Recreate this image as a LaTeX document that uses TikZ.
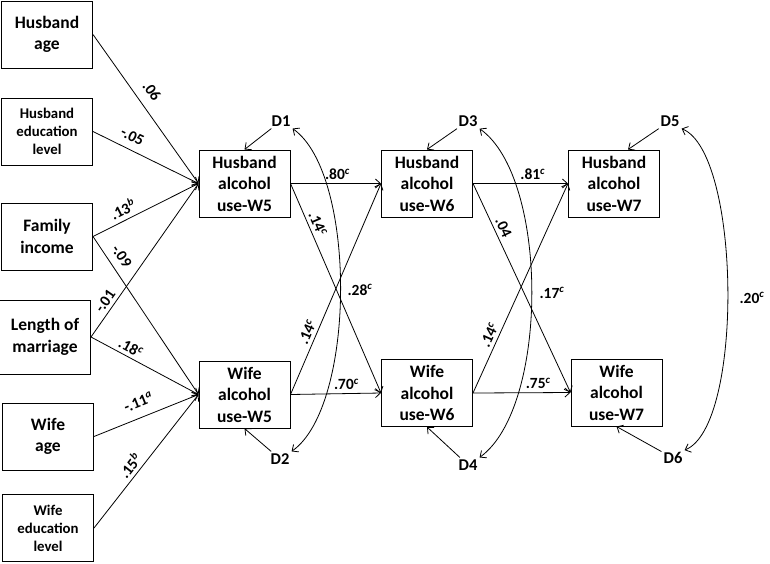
\documentclass[tikz,border=0pt]{standalone}
\usepackage{fontspec}
\setmainfont{Carlito}
\usetikzlibrary{arrows.meta}

\newcommand{\sig}[2]{#1\textsuperscript{\textit{#2}}}

\begin{document}
\begin{tikzpicture}[x=1pt, y=-1pt,
    obs/.style={draw, line width=1pt, align=center, minimum width=91pt, minimum height=67pt, inner sep=0pt, font=\bfseries\fontsize{17.5}{21.5}\selectfont},
    obssm/.style={obs, font=\bfseries\fontsize{14.8}{18}\selectfont},
    dist/.style={inner sep=2pt, font=\bfseries\fontsize{16.5}{18}\selectfont},
    effect/.style={-{Straight Barb[length=5pt,width=9pt]}, line width=0.8pt},
    cov/.style={{Straight Barb[length=5pt,width=9pt]}-{Straight Barb[length=5pt,width=9pt]}, line width=0.8pt},
    coef/.style={sloped, above=2pt, inner sep=1.5pt, font=\bfseries\fontsize{15.5}{17}\selectfont}
]
    \useasboundingbox (0,0) rectangle (770,563);

    % Background variables
    \node[obs] (hage) at (47,34.5) {Husband\\age};
    \node[obssm] (hedu) at (47,131.5) {Husband\\education\\level};
    \node[obs] (finc) at (47,236.5) {Family\\income};
    \node[obs, minimum height=74pt] (lom) at (45,337) {Length of\\marriage};
    \node[obs] (wage) at (48,436.5) {Wife\\age};
    \node[obssm] (wedu) at (48,528) {Wife\\education\\level};

    % Alcohol use, waves 5 to 7
    \node[obs] (hw5) at (244.5,183.5) {Husband\\alcohol\\use-W5};
    \node[obs] (ww5) at (244.5,394.5) {Wife\\alcohol\\use-W5};
    \node[obs] (hw6) at (427,183.5) {Husband\\alcohol\\use-W6};
    \node[obs] (ww6) at (427,393) {Wife\\alcohol\\use-W6};
    \node[obs] (hw7) at (614,183.5) {Husband\\alcohol\\use-W7};
    \node[obs] (ww7) at (616.5,392.5) {Wife\\alcohol\\use-W7};

    % Disturbances
    \node[dist] (d1) at (281,121) {D1};
    \node[dist] (d2) at (280,459) {D2};
    \node[dist] (d3) at (468,121) {D3};
    \node[dist] (d4) at (468,465) {D4};
    \node[dist] (d5) at (670,121) {D5};
    \node[dist] (d6) at (673,458) {D6};

    % Paths from background variables
    \draw[effect] (hage.east) -- node[coef, pos=.44, above=6pt] {.06} (hw5.west);
    \draw[effect] (hedu.east) -- node[coef, pos=.32, above=4pt] {-.05} (hw5.west);
    \draw[effect] (finc.east) -- node[coef, pos=.33, above=1pt] {\sig{.13}{b}} (hw5.west);
    \draw[effect] (finc.east) -- node[coef, pos=.17, above=4pt] {-.09} (ww5.west);
    \draw[effect] (lom.east) -- node[coef, pos=.20, above=0pt] {-.01} (hw5.west);
    \draw[effect] (lom.east) -- node[coef, pos=.33] {\sig{.18}{c}} (ww5.west);
    \draw[effect] (wage.east) -- node[coef, pos=.48, above=6pt] {\sig{-.11}{a}} (ww5.west);
    \draw[effect] (wedu.east) -- node[coef, pos=.42, above=0pt] {\sig{.15}{b}} (ww5.west);

    % Cross-lagged paths
    \draw[effect] (hw5.east) -- node[coef, pos=.52] {\sig{.80}{c}} (hw6.west);
    \draw[effect] (hw5.east) -- node[coef, pos=.21] {\sig{.14}{c}} (ww6.west);
    \draw[effect] (ww5.east) -- node[coef, pos=.28] {\sig{.14}{c}} (hw6.west);
    \draw[effect] (ww5.east) -- node[coef, pos=.62] {\sig{.70}{c}} (ww6.west);
    \draw[effect] (hw6.east) -- node[coef, pos=.63] {\sig{.81}{c}} (hw7.west);
    \draw[effect] (hw6.east) -- node[coef, pos=.23] {.04} (ww7.west);
    \draw[effect] (ww6.east) -- node[coef, pos=.26] {\sig{.14}{c}} (hw7.west);
    \draw[effect] (ww6.east) -- node[coef, pos=.67] {\sig{.75}{c}} (ww7.west);

    % Disturbance arrows
    \foreach \d/\b in {d1/hw5.north, d2/ww5.south, d3/hw6.north, d4/ww6.south, d6/ww7.south}
        \draw[effect] (\d) -- (\b);
    \draw[effect] (d5) -- ([xshift=14pt]hw7.north);

    % Correlated disturbances
    \draw[cov] (d1.south east) .. controls (357,174) and (356,406) .. (d2.north east);
    \draw[cov] (d3.south east) .. controls (549,178) and (549,407) .. (d4.north east);
    \draw[cov] (d5.south east) .. controls (741,153) and (744,426) .. (d6.north east);
    \node[coef, sloped=false, above=0pt] (r12) at (360,299) {\sig{.28}{c}};
    \node[coef, sloped=false, above=0pt] (r34) at (552,302) {\sig{.17}{c}};
    \node[coef, sloped=false, above=0pt] (r56) at (752,307) {\sig{.20}{c}};
\end{tikzpicture}
\end{document}
